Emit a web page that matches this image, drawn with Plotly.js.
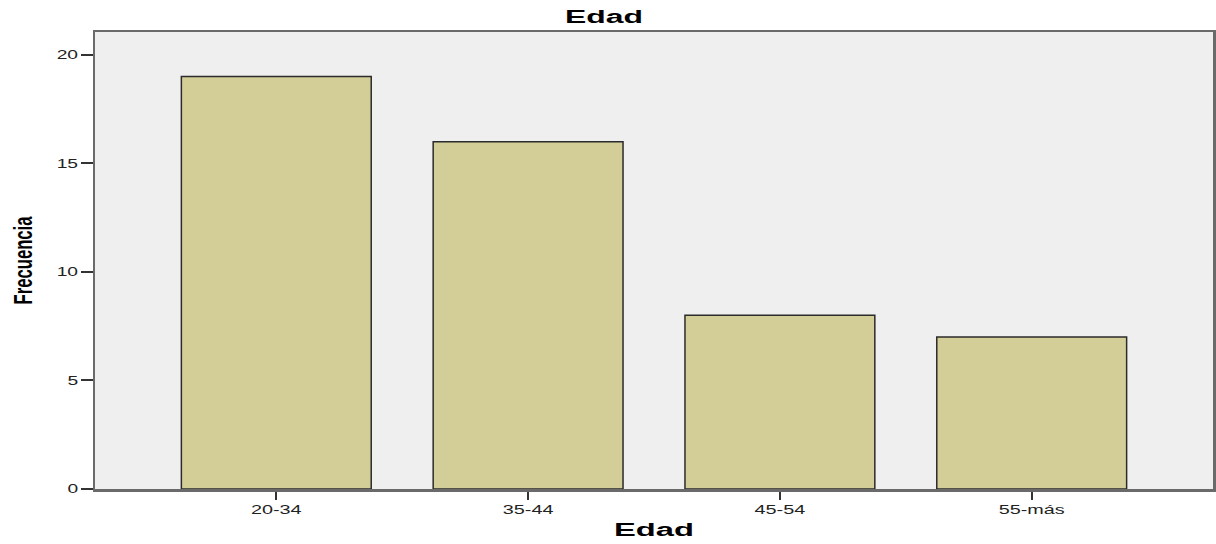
<!DOCTYPE html>
<html><head><meta charset="utf-8">
<script src="https://cdn.plot.ly/plotly-3.0.1.min.js"></script>
<style>html,body{margin:0;padding:0;background:#fff}#chart{width:1216px;height:544px}</style>
</head><body><div id="chart"></div>
<script>
const categories = ["20-34", "35-44", "45-54", "55-más"];
const frecuencia = [19, 16, 8, 7];
const yTicks = [0, 5, 10, 15, 20];

const FONT = "Liberation Sans, Arial, sans-serif";

const trace = {
  type: "bar",
  x: categories,
  y: frecuencia,
  width: 0.754,
  marker: {color: "#d3ce97", line: {color: "#2b2b2b", width: 1.5}},
  hoverinfo: "x+y"
};

const layout = {
  width: 1216, height: 544,
  margin: {l: 95, r: 3, t: 32, b: 55},
  paper_bgcolor: "#ffffff",
  plot_bgcolor: "#efefef",
  showlegend: false,
  title: {text: "Edad", xref: "container", x: 0.4967, xanchor: "center", y: 0.97, yanchor: "middle",
          font: {family: FONT, size: 18, weight: 700, color: "#000"}},
  xaxis: {
    type: "category",
    range: [-0.72, 3.72],
    showgrid: false, zeroline: false,
    showline: true, mirror: true, linecolor: "#6a6a6a", linewidth: 2.5,
    ticks: "outside", ticklen: 8, tickwidth: 2, tickcolor: "#333",
    tickfont: {family: FONT, size: 12, color: "#222"},
    title: {text: "Edad", standoff: 8,
            font: {family: FONT, size: 18, weight: 700, color: "#000"}}
  },
  yaxis: {
    range: [0, 21.05],
    tickvals: yTicks,
    showgrid: false, zeroline: false,
    showline: true, mirror: true, linecolor: "#6a6a6a", linewidth: 2.5,
    ticks: "outside", ticklen: 12, tickwidth: 2, tickcolor: "#333",
    tickfont: {family: FONT, size: 12, color: "#222"},
    title: {text: "Frecuencia", standoff: 25,
            font: {family: FONT, size: 26, weight: 700, color: "#000"}}
  }
};

function stretch(sel, factor, fixed) {
  document.querySelectorAll(sel).forEach(function (t) {
    const len = t.getComputedTextLength();
    if (!len) return;
    const target = fixed ? fixed : len * factor;
    t.setAttribute("textLength", target.toFixed(1));
    t.setAttribute("lengthAdjust", "spacingAndGlyphs");
  });
}

Plotly.newPlot("chart", [trace], layout, {displayModeBar: false, staticPlot: true}).then(function () {
  stretch("#chart .xtick text", 1.65);
  stretch("#chart .ytick text", 1.6);
  stretch("#chart .gtitle", 0, 78);
  stretch("#chart .xtitle", 0, 80);
  stretch("#chart .ytitle", 0, 88);
});
</script></body></html>
